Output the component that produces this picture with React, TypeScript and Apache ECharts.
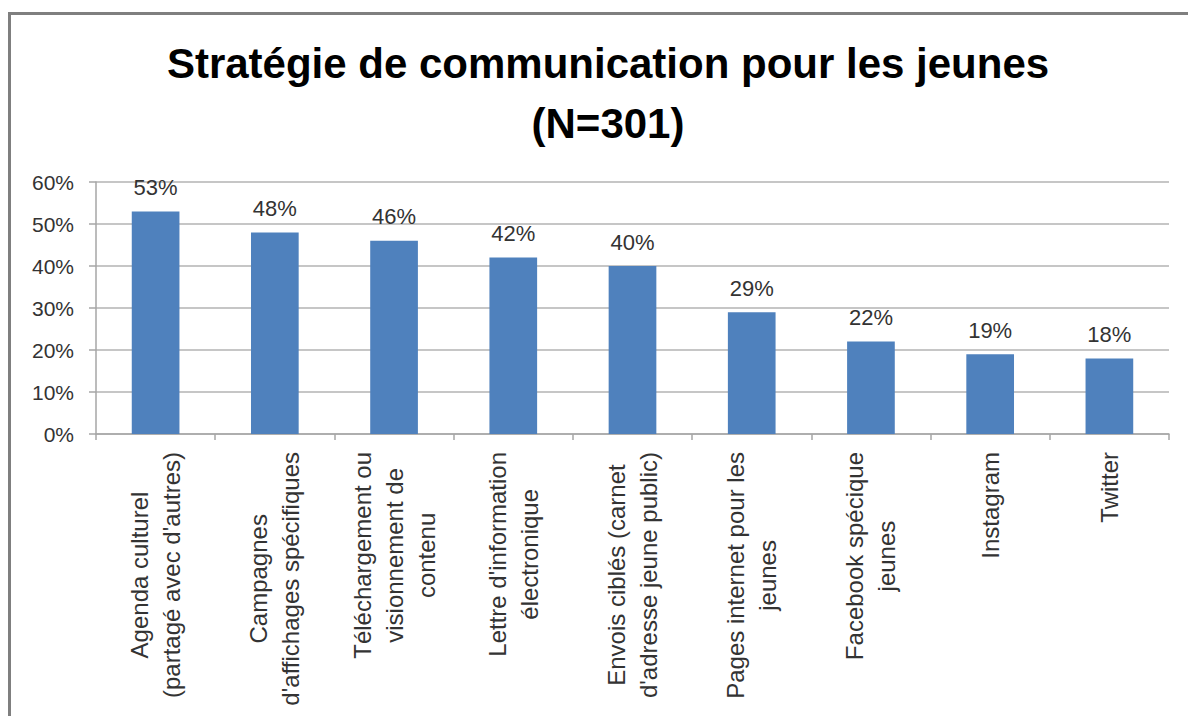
import React, { useEffect, useRef } from "react";
import * as echarts from "echarts";

const titleText = "Stratégie de communication pour les jeunes\n(N=301)";

const categories = [
  "Agenda culturel\n(partagé avec d'autres)",
  "Campagnes\nd'affichages spécifiques",
  "Téléchargement ou\nvisionnement de\ncontenu",
  "Lettre d'information\nélectronique",
  "Envois ciblés (carnet\nd'adresse jeune public)",
  "Pages internet pour les\njeunes",
  "Facebook spécique\njeunes",
  "Instagram",
  "Twitter",
];

const values = [53, 48, 46, 42, 40, 29, 22, 19, 18];

const yTicks = { min: 0, max: 60, interval: 10 };

const FONT = "'Liberation Sans', Arial, sans-serif";

export default function App() {
  const ref = useRef<HTMLDivElement>(null);

  useEffect(() => {
    if (!ref.current) return;
    const chart = echarts.init(ref.current, null, { renderer: "svg" });
    chart.setOption({
      animation: false,
      backgroundColor: "#ffffff",
      title: {
        text: titleText,
        left: 603,
        textAlign: "center",
        top: 28,
        textStyle: {
          fontFamily: FONT,
          fontSize: 42,
          fontWeight: "bold",
          color: "#000000",
          lineHeight: 60,
        },
      },
      graphic: [
        {
          type: "line",
          shape: { x1: 8, y1: 13.5, x2: 1188, y2: 13.5 },
          style: { stroke: "#7f7f7f", lineWidth: 3 },
        },
        {
          type: "line",
          shape: { x1: 9.5, y1: 12, x2: 9.5, y2: 716 },
          style: { stroke: "#7f7f7f", lineWidth: 3 },
        },
      ],
      grid: { left: 96, right: 19, top: 182, bottom: 282, containLabel: false },
      xAxis: {
        type: "category",
        data: categories,
        boundaryGap: true,
        axisLine: { show: true, lineStyle: { color: "#a6a6a6", width: 1.5 } },
        axisTick: { show: true, alignWithLabel: false, length: 6, lineStyle: { color: "#a6a6a6", width: 1.5 } },
        axisLabel: {
          interval: 0,
          rotate: 90,
          margin: 18,
          color: "#333333",
          fontFamily: FONT,
          fontSize: 24,
          lineHeight: 32,
          formatter: (v: string) =>
            v
              .split("\n")
              .map((l) => `{c|${l}}`)
              .join("\n"),
          rich: {
            c: {
              align: "center",
              fontFamily: FONT,
              fontSize: 24,
              lineHeight: 32,
              color: "#333333",
            },
          },
        },
      },
      yAxis: {
        type: "value",
        min: yTicks.min,
        max: yTicks.max,
        interval: yTicks.interval,
        axisLine: { show: true, lineStyle: { color: "#a6a6a6", width: 1.5 } },
        axisTick: { show: true, length: 7, lineStyle: { color: "#a6a6a6", width: 1.5 } },
        axisLabel: {
          formatter: "{value}%",
          margin: 22,
          color: "#333333",
          fontFamily: FONT,
          fontSize: 21,
        },
        splitLine: { show: true, lineStyle: { color: "#b3b3b3", width: 1.5 } },
      },
      series: [
        {
          type: "bar",
          data: values,
          barWidth: "40%",
          itemStyle: { color: "#4f81bd" },
          label: {
            show: true,
            position: "top",
            distance: 13,
            formatter: "{c}%",
            color: "#333333",
            fontFamily: FONT,
            fontSize: 22,
          },
        },
      ],
    });
    return () => chart.dispose();
  }, []);

  return (
    <div
      ref={ref}
      style={{ position: "absolute", left: 0, top: 0, width: 1188, height: 716 }}
    />
  );
}
